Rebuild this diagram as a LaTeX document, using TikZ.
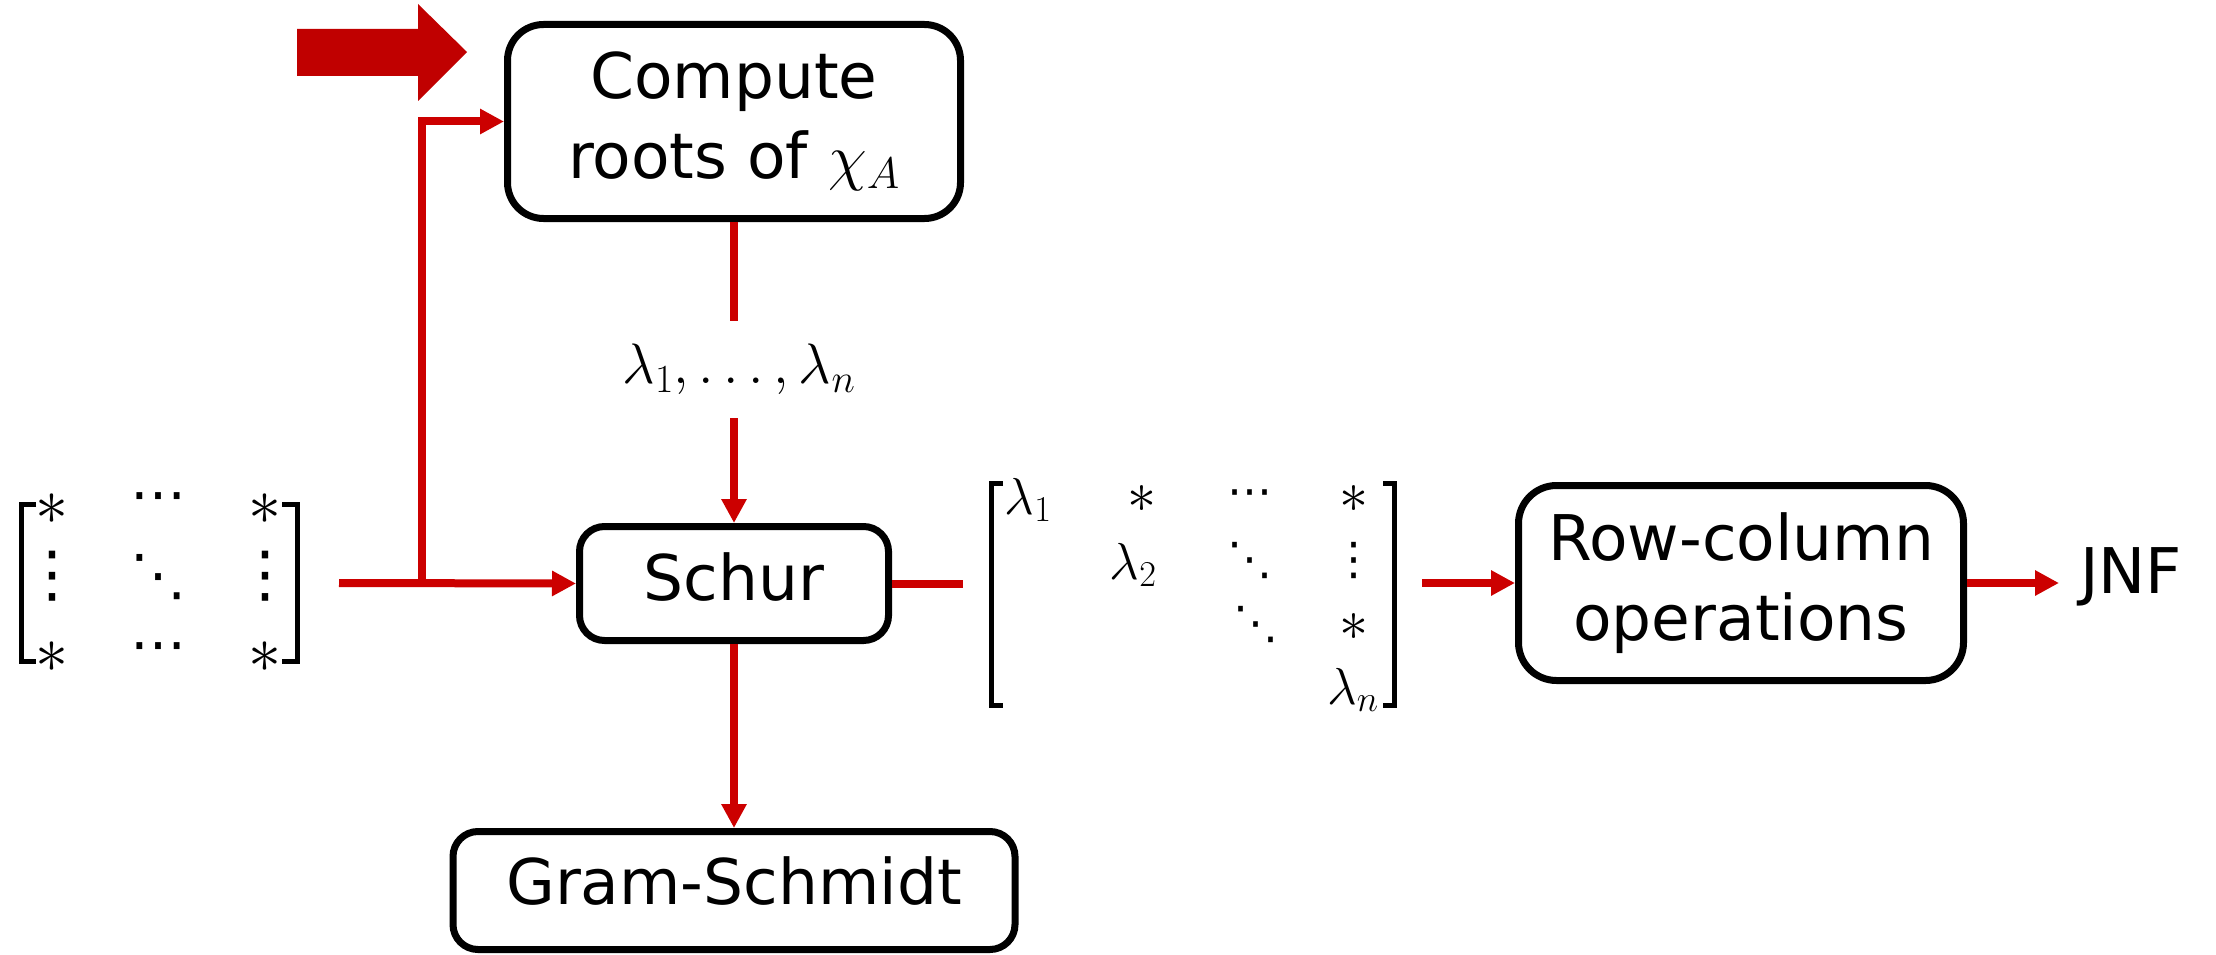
\RequirePackage{fix-cm}
\documentclass[tikz,border=0pt]{standalone}
\usepackage{fontspec}
\setmainfont{DejaVu Sans}
\newfontfamily\dotsfont{DejaVu Sans}
\usetikzlibrary{arrows.meta}
\definecolor{arrowred}{RGB}{192,0,0}
\definecolor{linkred}{RGB}{204,0,0}

\begin{document}
\begin{tikzpicture}[x=1pt,y=-1pt,
  box/.style={draw=black, line width=7pt, fill=white, align=center, inner sep=0pt,
    font=\fontsize{63}{80}\selectfont},
  link/.style={draw=linkred, line width=8pt},
  tip/.style={-{Triangle[length=24pt,width=24pt]}},
  blank/.style={inner sep=0pt, outer sep=0pt},
  bigentry/.style={inner sep=0pt, font=\fontsize{66}{66}\selectfont},
  bigdots/.style={inner sep=0pt, font=\dotsfont\fontsize{56}{56}\selectfont},
  bigvdots/.style={inner sep=0pt, font=\dotsfont\fontsize{62}{62}\selectfont},
  lamentry/.style={inner sep=0pt, font=\fontsize{52}{52}\selectfont},
  smallentry/.style={inner sep=0pt, font=\fontsize{58}{58}\selectfont},
  smalldots/.style={inner sep=0pt, font=\dotsfont\fontsize{45}{45}\selectfont},
  bracket/.style={draw=black, line width=5pt}
]
\useasboundingbox (0,0) rectangle (2216,955);

% block arrow marking the entry point
\fill[arrowred] (297,29) -- (418,29) -- (418,4) -- (467,52) -- (418,101)
  -- (418,76) -- (297,76) -- cycle;

% processing boxes
\node[box, rounded corners=36pt, minimum width=453pt, minimum height=194pt]
  (compute) at (734,121.5) {Compute\\roots of $\chi_A$};
\node[box, rounded corners=25pt, minimum width=309pt, minimum height=114pt,
  text depth=14pt] (schur) at (734,583.5) {Schur};
\node[box, rounded corners=25pt, minimum width=562pt, minimum height=118pt,
  text depth=20pt] (gram) at (734,890.5) {Gram-Schmidt};
\node[box, rounded corners=38pt, minimum width=445pt, minimum height=195pt]
  (rowcol) at (1741,583) {Row-column\\operations};
\node[inner xsep=21pt, inner ysep=0pt, anchor=west, font=\fontsize{63}{63}\selectfont]
  (jnf) at (2059,577) {JNF};

% eigenvalue label between the two upper boxes
\node[blank, minimum height=97pt, font=\fontsize{57}{57}\selectfont]
  (eig) at (739,369.5) {$\lambda_1,\ldots,\lambda_n$};

% input matrix
\node[blank, minimum width=339pt, minimum height=161pt] (lmat) at (169.5,583) {};
\draw[bracket] (36,504) -- (21,504) -- (21,661) -- (36,661);
\draw[bracket] (282,504) -- (297,504) -- (297,661) -- (282,661);
\node[bigentry] (l11) at (52,509) {$\ast$};
\node[bigdots]  (l12) at (158,503) {⋯};
\node[bigentry] (l13) at (265,509) {$\ast$};
\node[bigvdots] (l21) at (52,576) {⋮};
\node[bigdots]  (l22) at (158,577) {⋱};
\node[bigvdots] (l23) at (265,576) {⋮};
\node[bigentry] (l31) at (52,657) {$\ast$};
\node[bigdots]  (l32) at (158,653) {⋯};
\node[bigentry] (l33) at (265,657) {$\ast$};

% upper triangular matrix
\node[blank, minimum width=459pt, minimum height=227pt] (rmat) at (1192.5,583) {};
\draw[bracket] (1003,483.5) -- (991.5,483.5) -- (991.5,705.5) -- (1003,705.5);
\draw[bracket] (1383,483.5) -- (1394,483.5) -- (1394,705.5) -- (1383,705.5);
\node[lamentry]   (r11) at (1028,500) {$\lambda_1$};
\node[smallentry] (r12) at (1142,499) {$\ast$};
\node[smalldots]  (r13) at (1250,498) {⋯};
\node[smallentry] (r14) at (1354,499) {$\ast$};
\node[lamentry]   (r22) at (1133,565) {$\lambda_2$};
\node[smalldots]  (r23) at (1250,560) {⋱};
\node[smalldots]  (r24) at (1354,560) {⋮};
\node[smalldots]  (r33) at (1256,624) {⋱};
\node[smallentry] (r34) at (1354,627) {$\ast$};
\node[lamentry]   (r44) at (1353,690) {$\lambda_n$};

% connectors
\coordinate (split) at (422,583);
\draw[link, tip] (lmat.east) -- (schur.west);
\draw[link, tip] (split) |- (compute.west);
\draw[link] (compute.south) -- (compute.south |- eig.north);
\draw[link, tip] (eig.south -| schur.north) -- (schur.north);
\draw[link, tip] (schur.south) -- (gram.north);
\draw[link] (schur.east) -- (schur.east -| rmat.west);
\draw[link, tip] (rmat.east |- rowcol.west) -- (rowcol.west);
\draw[link, tip] (rowcol.east) -- (rowcol.east -| jnf.west);
\end{tikzpicture}
\end{document}
